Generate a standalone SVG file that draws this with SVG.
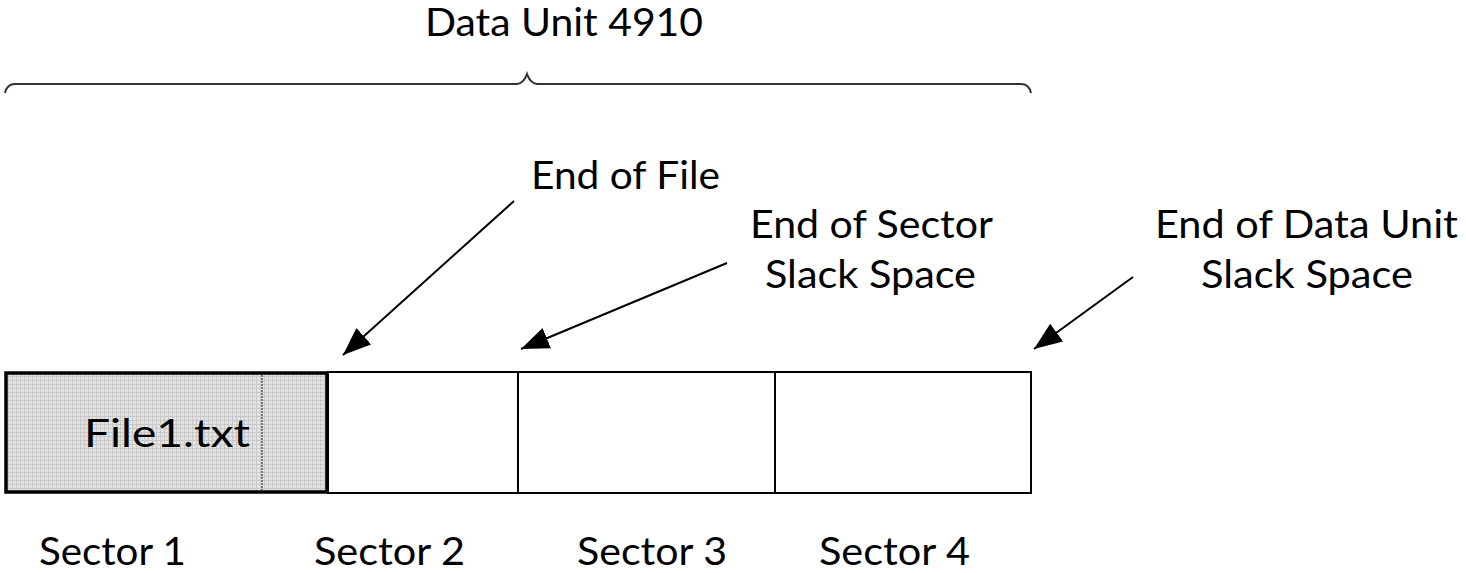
<svg xmlns="http://www.w3.org/2000/svg" width="1466" height="573" viewBox="0 0 1466 573">
  <style>
    .lbl { font-family: Lato, "Open Sans", "Liberation Sans", sans-serif; font-size: 38px; fill: #000; }
    .box { fill: #fff; stroke: #000; stroke-width: 2; }
    .arrow { stroke: #000; stroke-width: 2; fill: none; marker-end: url(#head); }
  </style>
  <defs>
    <marker id="head" markerUnits="userSpaceOnUse" markerWidth="30" markerHeight="24" refX="28" refY="11" orient="auto">
      <path d="M0,0 L28,11 L0,22 Z" fill="#000"/>
    </marker>
    <pattern id="grid" width="4" height="4" patternUnits="userSpaceOnUse">
      <rect width="4" height="4" fill="#e2e2e2"/>
      <path d="M0,0.5 H4 M0.5,0 V4" stroke="#c9c9c9" stroke-width="1"/>
    </pattern>
  </defs>
  <rect width="1466" height="573" fill="#fff"/>

  <!-- title and brace spanning the whole data unit -->
  <g id="data-unit">
    <text class="lbl" x="425" y="36" textLength="278" lengthAdjust="spacingAndGlyphs">Data Unit 4910</text>
    <path d="M5,93 Q7,84 15,84 L517,84 Q524,83 527,74 Q530,83 537,84 L1021,84 Q1029,84 1031,93" fill="none" stroke="#333" stroke-width="2"/>
  </g>

  <!-- sectors -->
  <g id="sector2">
    <rect class="box" x="328" y="372" width="190" height="121"/>
    <text class="lbl" x="314" y="565" textLength="151" lengthAdjust="spacingAndGlyphs">Sector 2</text>
  </g>
  <g id="sector3">
    <rect class="box" x="518" y="372" width="257" height="121"/>
    <text class="lbl" x="577" y="565" textLength="150" lengthAdjust="spacingAndGlyphs">Sector 3</text>
  </g>
  <g id="sector4">
    <rect class="box" x="775" y="372" width="256" height="121"/>
    <text class="lbl" x="819" y="565" textLength="151" lengthAdjust="spacingAndGlyphs">Sector 4</text>
  </g>
  <g id="sector1">
    <rect x="6" y="373" width="321" height="119" fill="url(#grid)" stroke="#000" stroke-width="3.5"/>
    <line x1="262" y1="375" x2="262" y2="490" stroke="#777" stroke-width="2" stroke-dasharray="2,1"/>
    <text class="lbl" x="84" y="447" textLength="166" lengthAdjust="spacingAndGlyphs">File1.txt</text>
    <text class="lbl" x="39" y="565" textLength="147" lengthAdjust="spacingAndGlyphs">Sector 1</text>
  </g>

  <!-- callout labels -->
  <g id="end-of-file">
    <text class="lbl" x="531" y="189" textLength="189" lengthAdjust="spacingAndGlyphs">End of File</text>
  </g>
  <g id="end-of-sector">
    <text class="lbl" x="750" y="238" textLength="243" lengthAdjust="spacingAndGlyphs">End of Sector</text>
    <text class="lbl" x="765" y="288" textLength="211" lengthAdjust="spacingAndGlyphs">Slack Space</text>
  </g>
  <g id="end-of-data-unit">
    <text class="lbl" x="1155" y="238" textLength="303" lengthAdjust="spacingAndGlyphs">End of Data Unit</text>
    <text class="lbl" x="1201" y="288" textLength="212" lengthAdjust="spacingAndGlyphs">Slack Space</text>
  </g>

  <!-- pointers -->
  <g id="connectors">
    <line class="arrow" x1="514" y1="201" x2="343" y2="355"/>
    <line class="arrow" x1="727" y1="263" x2="521" y2="349"/>
    <line class="arrow" x1="1133" y1="277" x2="1034" y2="349"/>
  </g>
</svg>
